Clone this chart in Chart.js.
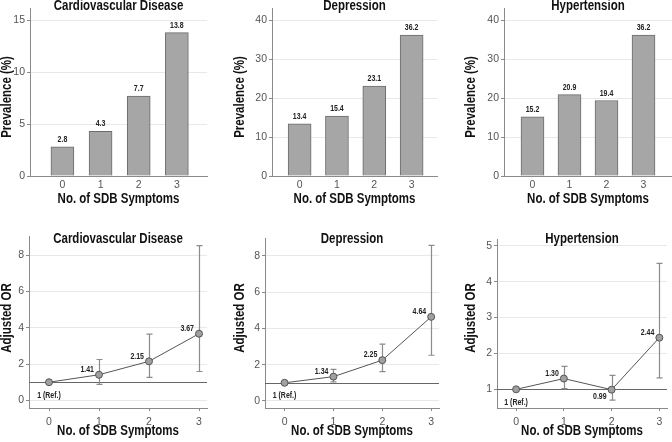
<!DOCTYPE html>
<html>
<head>
<meta charset="utf-8">
<script src="https://cdn.jsdelivr.net/npm/chart.js@4.4.1/dist/chart.umd.min.js"></script>
<style>
  body { margin: 0; background: #fff; }
  #wrap { position: relative; width: 672px; height: 442px; overflow: hidden; }
  canvas { position: absolute; }
</style>
</head>
<body>
<div id="wrap"></div>
<script>
// data
const symptoms = [0, 1, 2, 3];

const cvdPrev = [2.8, 4.3, 7.7, 13.8];
const depPrev = [13.4, 15.4, 23.1, 36.2];
const htnPrev = [15.2, 20.9, 19.4, 36.2];

const cvdOR = [1, 1.41, 2.15, 3.67];
const cvdLo = [1, 0.88, 1.27, 1.59];
const cvdHi = [1, 2.25, 3.65, 8.52];

const depOR = [1, 1.34, 2.25, 4.64];
const depLo = [1, 1.05, 1.62, 2.52];
const depHi = [1, 1.74, 3.13, 8.58];

const htnOR = [1, 1.30, 0.99, 2.44];
const htnLo = [1, 1.02, 0.70, 1.32];
const htnHi = [1, 1.64, 1.39, 4.51];

const ticksCvdPrev = [0, 5, 10, 15];
const ticksPrev40 = [0, 10, 20, 30, 40];
const ticksOR8 = [0, 2, 4, 6, 8];
const ticksOR5 = [1, 2, 3, 4, 5];

const FAMILY = "'Liberation Sans', Arial, sans-serif";
const AXIS = '#8a8a8a';
const SQUEEZE = 0.82; // the original uses a narrow face; squeeze Liberation Sans to match

// text drawn squeezed horizontally (along the text direction)
function narrowText(ctx, text, x, y, font, align, baseline, rot) {
  ctx.save();
  ctx.translate(x, y);
  if (rot) ctx.rotate(rot);
  ctx.scale(SQUEEZE, 1);
  ctx.font = font;
  ctx.textAlign = align;
  ctx.textBaseline = baseline;
  ctx.fillText(text, 0, 0);
  ctx.restore();
}

const panelPlugin = {
  id: 'panel',
  beforeDatasetsDraw(chart, args, o) {
    const { ctx, chartArea: a, scales: { x, y } } = chart;
    ctx.save();
    if (o.refLine != null) {
      const py = Math.round(y.getPixelForValue(o.refLine)) + 0.5;
      ctx.strokeStyle = '#666';
      ctx.lineWidth = 1;
      ctx.beginPath(); ctx.moveTo(a.left, py); ctx.lineTo(a.right, py); ctx.stroke();
    }
    if (o.lo) {
      ctx.strokeStyle = '#8c8c8c';
      ctx.lineWidth = 1.2;
      symptoms.forEach((s, i) => {
        if (o.lo[i] === o.hi[i]) return;
        const px = Math.round(x.getPixelForValue(s)) + 0.5;
        const y1 = y.getPixelForValue(o.lo[i]), y2 = y.getPixelForValue(o.hi[i]);
        ctx.beginPath();
        ctx.moveTo(px, y1); ctx.lineTo(px, y2);
        ctx.moveTo(px - 3, y1); ctx.lineTo(px + 3, y1);
        ctx.moveTo(px - 3, y2); ctx.lineTo(px + 3, y2);
        ctx.stroke();
      });
    }
    ctx.restore();
  },
  afterDatasetsDraw(chart, args, o) {
    const { ctx, chartArea: a } = chart;
    ctx.save();
    const big = 'bold 14px ' + FAMILY;
    ctx.fillStyle = '#111';
    narrowText(ctx, o.title, (a.left + a.right) / 2, o.titleY, big, 'center', 'alphabetic');
    narrowText(ctx, 'No. of SDB Symptoms', (a.left + a.right) / 2, o.xTitleY, big, 'center', 'alphabetic');
    narrowText(ctx, o.yTitle, o.yTitleX, o.yTitleMid, big, 'center', 'middle', -Math.PI / 2);

    const meta = chart.getDatasetMeta(0);
    const vals = chart.data.datasets[0].data.map(d => d.y);
    const small = 'bold 8.5px ' + FAMILY;
    ctx.fillStyle = '#222';
    meta.data.forEach((el, i) => {
      if (o.kind === 'bar') {
        narrowText(ctx, vals[i].toFixed(1), el.x, el.y - 3, small, 'center', 'bottom');
      } else if (i === 0) {
        narrowText(ctx, '1 (Ref.)', el.x, el.y + 9, small, 'center', 'top');
      } else if (vals[i] < 1) {
        narrowText(ctx, vals[i].toFixed(2), el.x - 5, el.y + 3, small, 'right', 'top');
      } else {
        narrowText(ctx, vals[i].toFixed(2), el.x - 5, el.y - 5, small, 'right', 'middle');
      }
    });
    ctx.restore();
  }
};

function makePanel(p) {
  const cv = document.createElement('canvas');
  cv.width = p.w; cv.height = p.h;
  cv.style.left = p.left + 'px'; cv.style.top = p.top + 'px';
  document.getElementById('wrap').appendChild(cv);
  const isBar = p.kind === 'bar';
  const points = symptoms.map((s, i) => ({ x: s, y: p.vals[i] }));
  const ds = isBar
    ? { data: points, backgroundColor: '#a6a6a6', borderColor: '#6b6b6b', borderWidth: 1, barThickness: 23 }
    : { data: points, borderColor: '#555', borderWidth: 1, tension: 0, pointRadius: 3.5,
        pointBackgroundColor: '#a0a0a0', pointBorderColor: '#555', pointBorderWidth: 1 };

  new Chart(cv, {
    type: isBar ? 'bar' : 'line',
    data: { datasets: [ds] },
    plugins: [panelPlugin],
    options: {
      responsive: false, animation: false, events: [], devicePixelRatio: 1,
      layout: { padding: { top: p.padTop, right: p.padRight, left: 0, bottom: 0 } },
      plugins: {
        legend: { display: false }, tooltip: { enabled: false },
        panel: { kind: p.kind, title: p.title, titleY: p.titleY, yTitle: p.yTitle, yTitleX: p.yTitleX,
                 yTitleMid: p.yTitleMid, xTitleY: p.xTitleY, lo: p.lo, hi: p.hi, refLine: isBar ? null : 1 }
      },
      scales: {
        x: {
          type: 'linear', min: p.xMin, max: p.xMax, offset: false,
          border: { color: AXIS },
          grid: isBar ? { display: false, drawTicks: false, offset: false }
                      : { drawOnChartArea: false, tickLength: 3, tickColor: AXIS, offset: false },
          ticks: { font: { family: FAMILY, size: 10.5 }, color: '#555', padding: isBar ? 3 : 5, maxRotation: 0, autoSkip: false },
          afterBuildTicks: s => { s.ticks = symptoms.map(v => ({ value: v })); },
          afterFit: s => { s.height = p.xH; }
        },
        y: {
          type: 'linear', min: p.yMin, max: p.yMax,
          border: { color: AXIS },
          grid: { color: '#e8e8e8', tickLength: 3, tickColor: AXIS },
          ticks: { font: { family: FAMILY, size: 10.5 }, color: '#555', padding: 2 },
          afterBuildTicks: s => { s.ticks = p.yTicks.map(v => ({ value: v })); },
          afterFit: s => { s.width = p.axisW; }
        }
      }
    }
  });
}

// top row: prevalence bars
makePanel({ kind: 'bar', left: 0, top: 0, w: 224, h: 221, title: 'Cardiovascular Disease', yTitle: 'Prevalence (%)',
  vals: cvdPrev, yTicks: ticksCvdPrev, yMin: 0, yMax: 16.15, xMin: -0.85, xMax: 3.79,
  axisW: 30, padTop: 8, padRight: 17, xH: 45, titleY: 10, xTitleY: 203, yTitleX: 7, yTitleMid: 97 });
makePanel({ kind: 'bar', left: 224, top: 0, w: 224, h: 221, title: 'Depression', yTitle: 'Prevalence (%)',
  vals: depPrev, yTicks: ticksPrev40, yMin: 0, yMax: 43.1, xMin: -0.74, xMax: 3.68,
  axisW: 48, padTop: 8, padRight: 11, xH: 45, titleY: 10, xTitleY: 203, yTitleX: 16, yTitleMid: 97 });
makePanel({ kind: 'bar', left: 448, top: 0, w: 224, h: 221, title: 'Hypertension', yTitle: 'Prevalence (%)',
  vals: htnPrev, yTicks: ticksPrev40, yMin: 0, yMax: 43.1, xMin: -0.77, xMax: 3.77,
  axisW: 56, padTop: 8, padRight: 0, xH: 45, titleY: 10, xTitleY: 203, yTitleX: 23, yTitleMid: 97 });

// bottom row: adjusted odds ratios
makePanel({ kind: 'or', left: 0, top: 221, w: 224, h: 221, title: 'Cardiovascular Disease', yTitle: 'Adjusted OR',
  vals: cvdOR, lo: cvdLo, hi: cvdHi, yTicks: ticksOR8, yMin: -0.42, yMax: 9.05, xMin: -0.4, xMax: 3.16,
  axisW: 29, padTop: 15, padRight: 17, xH: 34, titleY: 22, xTitleY: 214, yTitleX: 7, yTitleMid: 97 });
makePanel({ kind: 'or', left: 224, top: 221, w: 224, h: 221, title: 'Depression', yTitle: 'Adjusted OR',
  vals: depOR, lo: depLo, hi: depHi, yTicks: ticksOR8, yMin: -0.39, yMax: 8.99, xMin: -0.4, xMax: 3.16,
  axisW: 41, padTop: 17, padRight: 9, xH: 34, titleY: 22, xTitleY: 214, yTitleX: 16, yTitleMid: 97 });
makePanel({ kind: 'or', left: 448, top: 221, w: 224, h: 221, title: 'Hypertension', yTitle: 'Adjusted OR',
  vals: htnOR, lo: htnLo, hi: htnHi, yTicks: ticksOR5, yMin: 0.48, yMax: 5.19, xMin: -0.4, xMax: 3.16,
  axisW: 49, padTop: 18, padRight: 0, xH: 34, titleY: 22, xTitleY: 214, yTitleX: 23, yTitleMid: 97 });
</script>
</body>
</html>
